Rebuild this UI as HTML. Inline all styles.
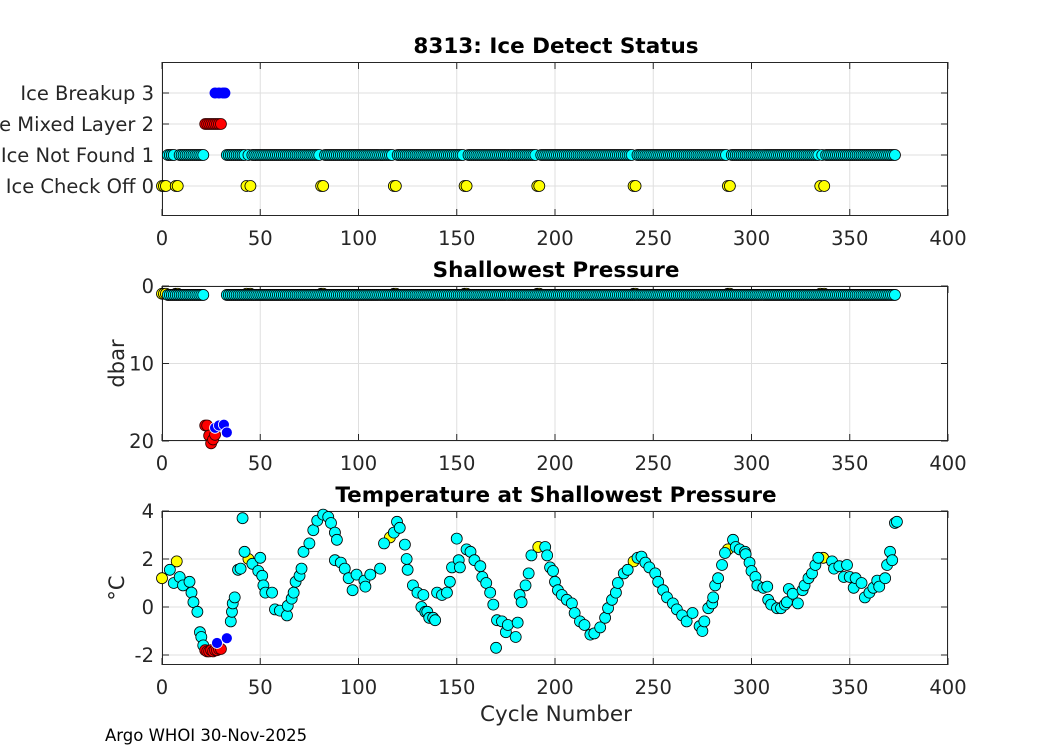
<!DOCTYPE html>
<html><head><meta charset="utf-8"><style>
body{margin:0;background:#fff}
svg{display:block;font-family:"DejaVu Sans","Liberation Sans",sans-serif}
</style></head><body>
<svg id="fig" width="1050" height="750"></svg>
<script>
// ---- data ----
const yellowCycles=[0,1,2,7,8,43,45,81,82,118,119,154,155,191,192,240,241,288,289,335,337];
const cyanRanges=[[3,21],[33,373]];
const redCycles=[22,23,24,25,26,27,28,29,30];
const blueCycles=[27,29,31,32];
const statusTicks=["Ice Check Off 0","Ice Not Found 1","Ice Mixed Layer 2","Ice Breakup 3"];
const cyanPressure=1.15;
const yellowPressure=1.0;
const redPresCycles=[22,23,24,25,26,27];
const redPres=[18.0,18.0,19.3,20.3,19.8,19.2];
const bluePresCycles=[27,29,31.5,33];
const bluePres=[18.3,18.0,17.9,18.9];
const tCycles=[4,6,9,10.7,14,15,16,18,19.3,20,21,35,35.6,36,37,38.7,40,41,42,46,49,50,51,51.6,52.6,56,57.5,60,63.6,64,66,67,68,70,71,72,75,77,79,82,84.6,86,88,89,88,91,93,95,97,99,103,103.5,106,111,113,118,119.6,121,123.6,124.5,125,127.7,130,132,133,134,135,136,138,139,140,142.5,145,146.5,147.6,150,151,151.6,155,157,159,162,163,165,167,168.6,170.5,170,173,175,176,180,181,182,183,185,186.6,188,195,196,197.5,199,200,201.5,203.5,206,208.6,210,212.7,215,218,220,223,225.5,227,229,231,232,235,237,242,244,246,248,251,252.5,255,257,260,262,264.7,267,270,273.6,275,276,278,280,280.5,281.5,283,285,286.5,290.6,292,294,296.7,297,299,300,302,303,306,308,308.5,310,313,315,317,318,319,321,323.6,326,327,329,330.8,332.5,334,341,342,344.7,347,348.6,350,352,353,356,357.7,360,362,364,365,368,369,370.5,371.6,373,374];
const tVals=[1.55,1.0,1.25,0.9,1.05,0.6,0.2,-0.2,-1.05,-1.25,-1.6,-0.6,-0.2,0.15,0.4,1.55,1.6,3.7,2.3,1.8,1.5,2.05,1.3,0.9,0.6,0.6,-0.1,-0.15,-0.35,0.05,0.35,0.6,1.05,1.3,1.6,2.3,2.65,3.2,3.6,3.85,3.75,3.5,3.1,2.8,1.95,1.85,1.6,1.2,0.7,1.35,1.1,0.85,1.35,1.6,2.65,3.1,3.55,3.3,2.6,2.0,1.55,0.9,0.6,0.0,0.5,-0.2,-0.2,-0.45,-0.45,-0.55,0.6,0.5,0.6,1.05,1.65,2.85,1.95,1.65,2.4,2.3,1.95,1.7,1.25,1.0,0.6,0.1,-0.55,-1.7,-0.6,-1.05,-0.75,-1.25,-0.65,0.5,0.2,0.9,1.4,2.15,2.5,2.15,1.65,1.5,1.05,0.7,0.5,0.3,0.15,-0.25,-0.6,-0.75,-1.15,-1.1,-0.85,-0.45,-0.05,0.3,0.6,1.0,1.4,1.55,2.05,2.1,1.85,1.65,1.4,1.05,0.7,0.4,0.15,-0.1,-0.35,-0.6,-0.25,-0.8,-1.0,-0.6,-0.05,0.15,0.4,0.9,1.2,1.75,2.25,2.8,2.5,2.4,2.3,2.2,1.85,1.5,1.25,0.9,0.8,0.85,0.3,0.1,-0.05,-0.05,0.1,0.2,0.75,0.55,0.15,0.7,0.9,1.2,1.4,1.75,2.05,1.9,1.6,1.7,1.25,1.75,1.25,0.8,1.2,1.0,0.4,0.6,0.8,1.1,0.85,1.2,1.75,2.3,1.95,3.5,3.55];
const tYellowCycles=[0,7.5,44,116,191.5,240,288,336.5];
const tYellowVals=[1.2,1.9,2.0,2.9,2.5,1.9,2.4,2.05];
const tRedCycles=[22,23,24,25,26,27,28,29,30];
const tRedVals=[-1.8,-1.85,-1.85,-1.8,-1.85,-1.8,-1.8,-1.75,-1.75];
const tBlueCycles=[28,33];
const tBlueVals=[-1.5,-1.3];
const xTicks=[0,50,100,150,200,250,300,350,400];

// ---- helpers ----
const NS="http://www.w3.org/2000/svg";
const svg=document.getElementById('fig');
function mk(tag,attrs,parent){const e=document.createElementNS(NS,tag);for(const k in attrs)e.setAttribute(k,attrs[k]);(parent||svg).appendChild(e);return e;}
const X0=162,X1=948;
const xs=c=>X0+(c/400)*(X1-X0);
const panels=[
 {top:62,bot:216,y:v=>186-31*v,title:"8313: Ice Detect Status",name:"status"},
 {top:286,bot:441,y:v=>286+7.75*v,title:"Shallowest Pressure",name:"pressure"},
 {top:511,bot:665,y:v=>607-24*v,title:"Temperature at Shallowest Pressure",name:"temperature"}
];
function axes(p,yt,ylab){
  const g=mk('g',{});
  
  
  mk('rect',{x:X0,y:p.top,width:X1-X0,height:p.bot-p.top,fill:'#fff'},g);
  xTicks.forEach(t=>{const x=xs(t);
    mk('line',{x1:x,x2:x,y1:p.top,y2:p.bot,stroke:'#dfdfdf','stroke-width':1},g);
    mk('line',{x1:x,x2:x,y1:p.bot,y2:p.bot-7,stroke:'#262626'},g);
    mk('line',{x1:x,x2:x,y1:p.top,y2:p.top+7,stroke:'#262626'},g);
    const tx=mk('text',{x:x,y:p.bot+29,'text-anchor':'middle','font-size':19.5,fill:'#262626'},g);tx.textContent=t;
    
    
  });
  yt.forEach(([v,l])=>{const y=p.y(v);
    mk('line',{x1:X0,x2:X1,y1:y,y2:y,stroke:'#dfdfdf'},g);
    mk('line',{x1:X0,x2:X0+7,y1:y,y2:y,stroke:'#262626'},g);
    mk('line',{x1:X1,x2:X1-7,y1:y,y2:y,stroke:'#262626'},g);
    const tx=mk('text',{x:154,y:y+7,'text-anchor':'end','font-size':19.5,fill:'#262626'},g);tx.textContent=l;
    
    
  });
  mk('rect',{x:X0+0.5,y:p.top+0.5,width:X1-X0-1,height:p.bot-p.top-1,fill:'none',stroke:'#262626','stroke-width':1},g);
  const tt=mk('text',{x:556,y:p.top-9,'text-anchor':'middle','font-size':21.5,'font-weight':'bold',fill:'#000'});tt.textContent=p.title;
  
  
  if(ylab){const yl=mk('text',{x:0,y:0,'text-anchor':'middle','font-size':21,fill:'#262626',transform:`translate(124,${(p.top+p.bot)/2}) rotate(-90)`});yl.textContent=ylab;
    
    }
}
function dot(p,c,v,fill,stroke,name){
  const e=mk('circle',{cx:xs(c),cy:p.y(v),r:5.5,fill:fill,stroke:stroke,'stroke-width':0.8});
  
  
}
const CY='#00ffff',YE='#ffff00',RE='#ff0000',BL='#0000ff';

// panel 1
const p1=panels[0];
axes(p1,statusTicks.map((l,i)=>[i,l]),null);
cyanRanges.forEach(([a,b])=>{for(let c=a;c<=b;c++){if(yellowCycles.indexOf(c)<0)dot(p1,c,1,CY,'#000','status-point-not-found');}});
yellowCycles.forEach(c=>dot(p1,c,0,YE,'#000','status-point-check-off'));
redCycles.forEach(c=>dot(p1,c,2,RE,'#300','status-point-mixed-layer'));
blueCycles.forEach(c=>dot(p1,c,3,BL,'none','status-point-breakup'));

// panel 2
const p2=panels[1];
axes(p2,[[0,'0'],[10,'10'],[20,'20']],'dbar');
yellowCycles.forEach(c=>dot(p2,c,yellowPressure,YE,'#000','pressure-point-check-off'));
cyanRanges.forEach(([a,b])=>{for(let c=a;c<=b;c++){dot(p2,c,cyanPressure,CY,'#000','pressure-point');}});
redPresCycles.forEach((c,i)=>dot(p2,c,redPres[i],RE,'#300','pressure-point-mixed-layer'));
bluePresCycles.forEach((c,i)=>dot(p2,c,bluePres[i],BL,'#fff','pressure-point-breakup'));

// panel 3
const p3=panels[2];
axes(p3,[[-2,'-2'],[0,'0'],[2,'2'],[4,'4']],'°C');
tYellowCycles.forEach((c,i)=>dot(p3,c,tYellowVals[i],YE,'#000','temp-point-check-off'));
tCycles.forEach((c,i)=>dot(p3,c,tVals[i],CY,'#000','temp-point'));
tRedCycles.forEach((c,i)=>dot(p3,c,tRedVals[i],RE,'#300','temp-point-mixed-layer'));
tBlueCycles.forEach((c,i)=>dot(p3,c,tBlueVals[i],BL,'#fff','temp-point-breakup'));

const xl=mk('text',{x:556,y:721,'text-anchor':'middle','font-size':21.5,fill:'#262626'});xl.textContent='Cycle Number';


const ft=mk('text',{x:105,y:741,'font-size':16.5,fill:'#000'});ft.textContent='Argo WHOI 30-Nov-2025';


</script>
</body></html>
